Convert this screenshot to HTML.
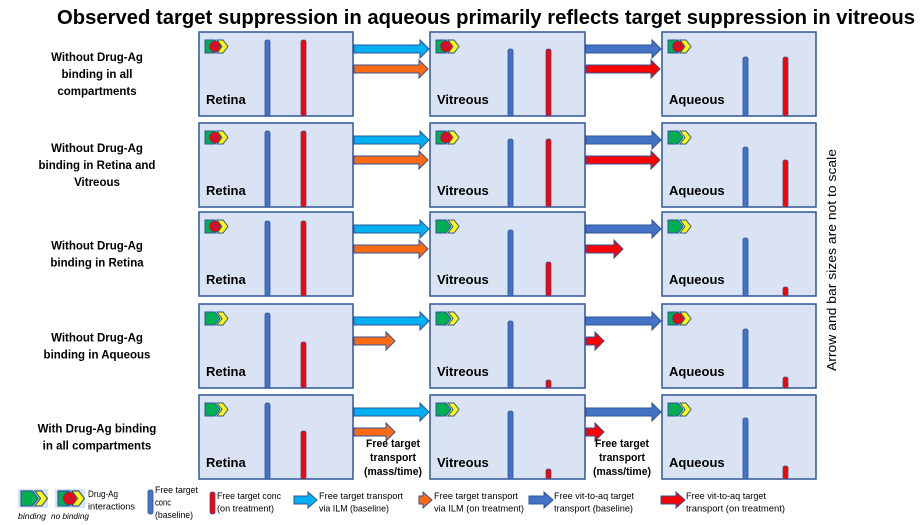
<!DOCTYPE html>
<html><head><meta charset="utf-8"><style>
html,body{margin:0;padding:0;background:#fff;}
svg{display:block;font-family:"Liberation Sans",sans-serif;}
</style></head><body>
<svg id="s" width="924" height="525" viewBox="0 0 924 525" xmlns="http://www.w3.org/2000/svg">
<text x="486" y="24" text-anchor="middle" font-size="20" font-weight="bold" textLength="858" lengthAdjust="spacingAndGlyphs">Observed target suppression in aqueous primarily reflects target suppression in vitreous</text>
<text transform="translate(836,260) rotate(-90)" text-anchor="middle" font-size="13" textLength="222" lengthAdjust="spacingAndGlyphs">Arrow and bar sizes are not to scale</text>
<g id="g"></g>
</svg>
<script>
var g=document.getElementById('g');var h='';
function icon(x,y,nb,s){s=s||1;var o='<g transform="translate('+x+','+y+') scale('+s+')">';
o+='<polygon points="12,0 18,0 23,6.5 18,13 12,13 17,6.5" fill="#ffff00" stroke="#2f5597" stroke-width="1"/>';
o+='<polygon points="0,0 10,0 15,6.5 10,13 0,13" fill="#00b050" stroke="#2f5597" stroke-width="1"/>';
if(nb){o+='<circle cx="10" cy="6.5" r="5.5" fill="#ff0000" stroke="#2f5597" stroke-width="0.8"/><path d="M7.5,4 L12.5,9 M12.5,4 L7.5,9" stroke="#7030a0" stroke-width="1.3" stroke-dasharray="1.3,1"/>';}
return o+'</g>';}
function arrow(x1,x2,cy,col,sh,hd){sh=sh||4;hd=hd||9;var hx=x2-9;
return '<polygon points="'+x1+','+(cy-sh)+' '+hx+','+(cy-sh)+' '+hx+','+(cy-hd)+' '+x2+','+cy+' '+hx+','+(cy+hd)+' '+hx+','+(cy+sh)+' '+x1+','+(cy+sh)+'" fill="'+col+'" stroke="#2f5597" stroke-width="1"/>';}
function bar(x,t,b,col){return '<rect x="'+x+'" y="'+t+'" width="5" height="'+(b-t)+'" rx="2" fill="'+col+'" stroke="#2f5597" stroke-width="0.8"/>';}
var tops=[32,123,212,304,395];
var labels=[["Without Drug-Ag","binding in all","compartments"],["Without Drug-Ag","binding in Retina and","Vitreous"],["Without Drug-Ag","binding in Retina"],["Without Drug-Ag","binding in Aqueous"],["With Drug-Ag binding","in all compartments"]];
var nb=[[1,1,1],[1,1,0],[1,0,0],[0,0,1],[0,0,0]];
var bars=[[8,8,17,17,25,25],[8,8,16,16,24,37],[9,9,18,50,26,75],[9,38,17,76,25,73],[8,36,16,74,23,71]];
var cols=[[199,353,"Retina",265,301],[430,585,"Vitreous",508,546],[662,816,"Aqueous",743,783]];
var ILMend=[428,428,428,395,395],VAend=[660,660,623,604,604];
for(var r=0;r<5;r++){var t=tops[r],b=t+84;
 var L=labels[r],n=L.length,y0=t+42-(n-1)*8.5+4;
 for(var i=0;i<n;i++)h+='<text x="97" y="'+(y0+i*17)+'" text-anchor="middle" font-size="11.5" font-weight="bold">'+L[i]+'</text>';
 for(var c=0;c<3;c++){var C=cols[c];
  h+='<rect x="'+C[0]+'" y="'+t+'" width="'+(C[1]-C[0])+'" height="84" fill="#dae3f3" stroke="#2f5597" stroke-width="1.5"/>';
  h+=icon(C[0]+6,t+8,nb[r][c]);
  h+='<text x="'+(C[0]+7)+'" y="'+(b-12)+'" font-size="13" font-weight="bold">'+C[2]+'</text>';
  h+=bar(C[3],t+bars[r][c*2],b,"#4472c4");h+=bar(C[4],t+bars[r][c*2+1],b,"#ff0000");}
 h+=arrow(354,429,t+17,"#00b0f0");h+=arrow(354,ILMend[r],t+37,"#ff6a13");
 h+=arrow(586,661,t+17,"#4472c4");h+=arrow(586,VAend[r],t+37,"#ff0000");}
[393,622].forEach(function(x){[["Free target",54],["transport",46],["(mass/time)",58]].forEach(function(s,i){h+='<text x="'+x+'" y="'+(447+i*14)+'" text-anchor="middle" font-size="11" font-weight="bold" textLength="'+s[1]+'" lengthAdjust="spacingAndGlyphs">'+s[0]+'</text>';});});
h+='<rect x="18" y="489" width="30" height="19" fill="#dae3f3"/>'+icon(21,491,0,1.15);
h+='<rect x="55" y="489" width="30" height="19" fill="#dae3f3"/>'+icon(58,491,1,1.15);
h+='<text x="18" y="519" font-size="8.5" font-style="italic" textLength="28" lengthAdjust="spacingAndGlyphs">binding</text><text x="51" y="519" font-size="8.5" font-style="italic" textLength="38" lengthAdjust="spacingAndGlyphs">no binding</text>';
function t2(x,y,a){a.forEach(function(s,i){h+='<text x="'+x+'" y="'+(y+i*12.5)+'" font-size="9.5" textLength="'+s[1]+'" lengthAdjust="spacingAndGlyphs">'+s[0]+'</text>';});}
t2(88,497,[["Drug-Ag",30],["interactions",47]]);
h+=bar(148,490,514,"#4472c4");t2(155,493,[["Free target",43],["conc",16],["(baseline)",38]]);
h+=bar(210,492,514,"#ff0000");t2(217,499,[["Free target conc",64],["(on treatment)",57]]);
h+=arrow(294,317,500,"#00b0f0",4,8);t2(319,499,[["Free target transport",84],["via ILM (baseline)",70]]);
h+=arrow(419,432,500,"#ff6a13",4,8);t2(434,499,[["Free target transport",84],["via ILM (on treatment)",90]]);
h+=arrow(529,553,500,"#4472c4",4,8);t2(554,499,[["Free vit-to-aq target",80],["transport (baseline)",79]]);
h+=arrow(661,685,500,"#ff0000",4,8);t2(686,499,[["Free vit-to-aq target",80],["transport (on treatment)",99]]);
g.innerHTML=h;
</script>
</body></html>
